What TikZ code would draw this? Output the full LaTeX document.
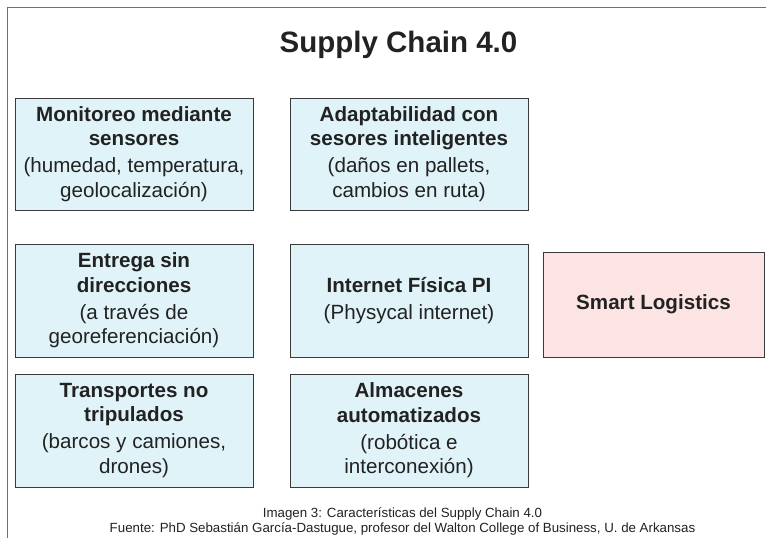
\documentclass[tikz,border=0pt]{standalone}
\usepackage{fontspec}
\setmainfont{Liberation Sans}
\definecolor{boxblue}{HTML}{E0F3F9}
\definecolor{boxpink}{HTML}{FCE4E4}
\definecolor{boxline}{HTML}{3A3A3A}
\definecolor{frameline}{HTML}{707070}
\definecolor{txt}{HTML}{222222}
\begin{document}
\begin{tikzpicture}[x=1pt,y=1pt,
  card/.style={draw=boxline, line width=0.9pt, fill=boxblue, minimum width=238pt, minimum height=112pt, inner sep=0pt, align=center, text=txt, font=\fontsize{20.6}{24.5}\selectfont},
  pinkcard/.style={card, fill=boxpink, minimum width=221pt, minimum height=105pt},
  frame/.style={draw=frameline, line width=1.6pt}]
\useasboundingbox (0,0) rectangle (766,-538);
\fill[white] (0,0) rectangle (766,-538);
\coordinate (fa) at (7.5,-538);
\coordinate (fb) at (7.5,-7.5);
\coordinate (fc) at (766,-7.5);
\draw[frame] (fa) -- (fb) -- (fc);
\node[anchor=base, text=txt, font=\fontsize{29.5}{32}\selectfont\bfseries, inner sep=0pt] (title) at (398.5,-52.5) {Supply Chain 4.0};
\node[card] (mon) at (134,-154) {\textbf{Monitoreo mediante}\\\textbf{sensores}\\[2.5pt](humedad, temperatura,\\geolocalización)};
\node[card] (ada) at (409,-154) {\textbf{Adaptabilidad con}\\\textbf{sesores inteligentes}\\[2.5pt](daños en pallets,\\cambios en ruta)};
\node[card, minimum height=113pt] (ent) at (134,-300.5) {\textbf{Entrega sin}\\\textbf{direcciones}\\[2.5pt](a través de\\georeferenciación)};
\node[card, minimum height=113pt] (int) at (409,-300.5) {\textbf{Internet Física PI}\\[2.5pt](Physycal internet)};
\node[pinkcard] (sma) at (653.5,-304.5) {\textbf{Smart Logistics}};
\node[card, minimum height=113pt] (tra) at (134,-430.5) {\textbf{Transportes no}\\\textbf{tripulados}\\[2.5pt](barcos y camiones,\\drones)};
\node[card, minimum height=113pt] (alm) at (409,-430.5) {\textbf{Almacenes}\\\textbf{automatizados}\\[2.5pt](robótica e\\interconexión)};
\node[anchor=base, align=center, inner sep=0pt, text=txt, font=\fontsize{13.3}{14.5}\selectfont] (cap) at (402.5,-532) {Imagen 3: Características del Supply Chain 4.0\\Fuente: PhD Sebastián García-Dastugue, profesor del Walton College of Business, U. de Arkansas};
\end{tikzpicture}
\end{document}
